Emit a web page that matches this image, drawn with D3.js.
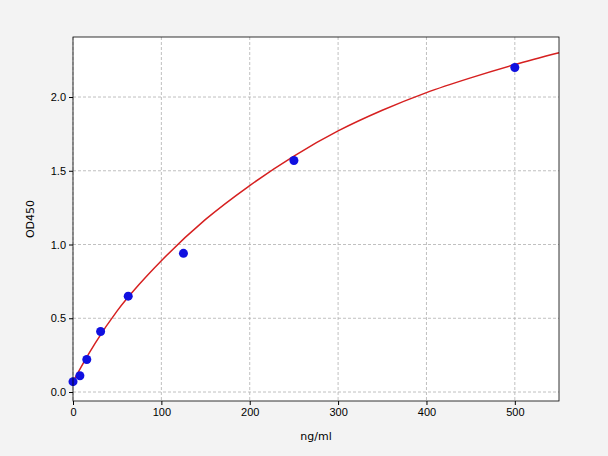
<!DOCTYPE html>
<html><head><meta charset="utf-8">
<script src="https://cdn.jsdelivr.net/npm/d3@7"></script>
<style>body{margin:0;background:#f3f3f3}</style>
</head><body><div></div>
<script>
// measured standards
var concs = [0, 7.8, 15.6, 31.25, 62.5, 125, 250, 500];
var ods = [0.07, 0.11, 0.22, 0.41, 0.65, 0.94, 1.57, 2.2];
// fitted curve
var curveX = [0, 12, 25, 50, 75, 100, 150, 200, 250, 300, 350, 400, 450, 500, 550];
var curveY = [0.07, 0.2, 0.33, 0.55, 0.73, 0.89, 1.17, 1.4, 1.6, 1.77, 1.91, 2.03, 2.13, 2.22, 2.3];
var xTicks = [0, 100, 200, 300, 400, 500];
var yTicks = [0, 0.5, 1, 1.5, 2];

var W = 608, H = 456, L = 73, R = 559, T = 37, B = 401;
var svg = d3.select("div").append("svg").attr("width", W).attr("height", H)
    .style("font-family", "DejaVu Sans, sans-serif");
var x = d3.scaleLinear().domain([0, 550]).range([L, R]);
var y = d3.scaleLinear().domain([-0.061, 2.407]).range([B, T]);

svg.append("rect").attr("x", L).attr("y", T).attr("width", R - L).attr("height", B - T).attr("fill", "#fff");

var grid = svg.append("g").attr("stroke", "#b0b0b0").attr("stroke-dasharray", "3,2").attr("stroke-width", 0.8);
xTicks.forEach(t => grid.append("line").attr("x1", x(t)).attr("x2", x(t)).attr("y1", T).attr("y2", B));
yTicks.forEach(t => grid.append("line").attr("x1", L).attr("x2", R).attr("y1", y(t)).attr("y2", y(t)));

var line = d3.line().x((d, i) => x(curveX[i])).y(d => y(d)).curve(d3.curveMonotoneX);
svg.append("path").datum(curveY).attr("d", line).attr("fill", "none").attr("stroke", "#d62020").attr("stroke-width", 1.5);

svg.append("g").selectAll("circle").data(concs).join("circle")
    .attr("cx", d => x(d)).attr("cy", (d, i) => y(ods[i])).attr("r", 4.5).attr("fill", "#1010e0");

svg.append("rect").attr("x", L).attr("y", T).attr("width", R - L).attr("height", B - T)
    .attr("fill", "none").attr("stroke", "#000").attr("stroke-width", 0.8);

svg.append("g").attr("transform", `translate(0,${B})`)
    .call(d3.axisBottom(x).tickValues(xTicks).tickSize(4).tickFormat(d3.format("d")))
    .call(g => g.select(".domain").remove())
    .selectAll("text").attr("font-size", 11).attr("fill", "#000");
svg.append("g").attr("transform", `translate(${L},0)`)
    .call(d3.axisLeft(y).tickValues(yTicks).tickSize(4).tickFormat(d3.format(".1f")))
    .call(g => g.select(".domain").remove())
    .selectAll("text").attr("font-size", 11).attr("fill", "#000");

svg.append("text").attr("x", (L + R) / 2).attr("y", 440).attr("text-anchor", "middle").attr("font-size", 11).text("ng/ml");
svg.append("text").attr("transform", `translate(34,${(T + B) / 2}) rotate(-90)`).attr("text-anchor", "middle").attr("font-size", 11).text("OD450");
</script></body></html>
